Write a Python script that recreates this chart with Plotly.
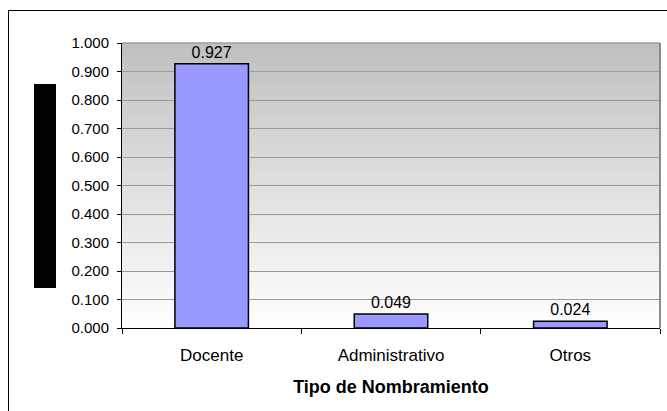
import plotly.graph_objects as go

# Share of appointments by type
categories = ["Docente", "Administrativo", "Otros"]
values = [0.927, 0.049, 0.024]
y_ticks = [0.0, 0.1, 0.2, 0.3, 0.4, 0.5, 0.6, 0.7, 0.8, 0.9, 1.0]

W, H = 667, 411
ML, MR, MT, MB = 122, 7, 43, 83
PW, PH = W - ML - MR, H - MT - MB


def px_x(p):
    return (p - ML) / PW


def px_y(p):
    return (H - MB - p) / PH


FONT = "Liberation Sans, Arial, sans-serif"

fig = go.Figure()
fig.add_trace(go.Bar(
    x=categories,
    y=values,
    marker=dict(color="#9999ff", line=dict(color="#000000", width=1.5)),
    text=[f"{v:.3f}" for v in values],
    textposition="outside",
    textfont=dict(family=FONT, size=16, color="#000000"),
    cliponaxis=False,
    width=0.41,
))

shapes = []
# vertical grey-to-white gradient behind the plot area
n = 80
for i in range(n):
    t = i / (n - 1)
    c = int(round(0xc0 + (0xff - 0xc0) * (1 - t)))
    shapes.append(dict(
        type="rect", xref="x domain", yref="y domain",
        x0=0, x1=1, y0=i / n, y1=(i + 1) / n + 0.002,
        fillcolor=f"rgb({c},{c},{c})", line=dict(width=0), layer="below",
    ))
# plot-area frame: grey top and right edges
shapes.append(dict(type="line", xref="x domain", yref="y domain",
                   x0=0, x1=1, y0=1, y1=1, line=dict(color="#8c8c8c", width=1)))
shapes.append(dict(type="line", xref="x domain", yref="y domain",
                   x0=1, x1=1, y0=0, y1=1, line=dict(color="#8c8c8c", width=2)))
# chart-area border
shapes.append(dict(type="rect", xref="paper", yref="paper",
                   x0=px_x(8.5), x1=px_x(700), y0=px_y(450), y1=px_y(10.5),
                   line=dict(color="#000000", width=1), fillcolor="rgba(0,0,0,0)"))
# solid block in place of the vertical axis title
shapes.append(dict(type="rect", xref="paper", yref="paper",
                   x0=px_x(34), x1=px_x(56), y0=px_y(288), y1=px_y(84),
                   line=dict(width=0), fillcolor="#000000"))

fig.update_layout(
    width=W, height=H,
    margin=dict(l=ML, r=MR, t=MT, b=MB),
    paper_bgcolor="#ffffff",
    plot_bgcolor="#ffffff",
    showlegend=False,
    bargap=0.59,
    shapes=shapes,
    font=dict(family=FONT, color="#000000"),
    xaxis=dict(
        type="category",
        range=[-0.5, 2.5],
        showline=True, linecolor="#000000", linewidth=1,
        ticks="outside", ticklen=5, tickcolor="#000000",
        tickson="boundaries",
        showgrid=False,
        tickfont=dict(family=FONT, size=17, color="#000000"),
        ticklabelstandoff=12,
        title=dict(text="<b>Tipo de Nombramiento</b>",
                   font=dict(family=FONT, size=18, color="#000000"),
                   standoff=15),
        fixedrange=True,
    ),
    yaxis=dict(
        range=[0, 1],
        tickvals=y_ticks,
        tickformat=".3f",
        showline=True, linecolor="#000000", linewidth=1,
        ticks="outside", ticklen=4, tickcolor="#000000",
        showgrid=True, gridcolor="#9a9a9a", gridwidth=1,
        zeroline=False,
        tickfont=dict(family=FONT, size=15, color="#000000"),
        ticklabelstandoff=5,
        fixedrange=True,
    ),
)

fig.write_html("out.html")
